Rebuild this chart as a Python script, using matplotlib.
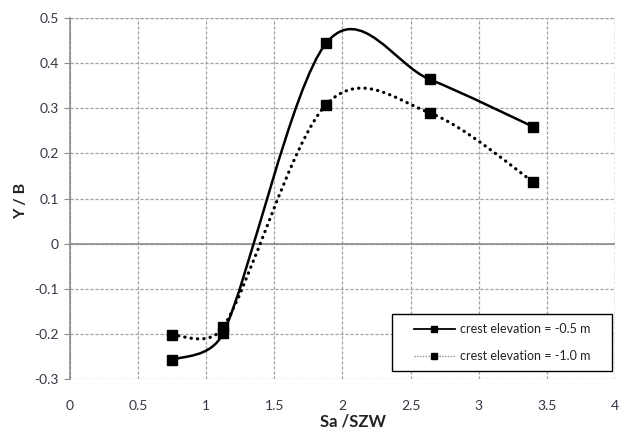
import matplotlib
matplotlib.use("Agg")
import matplotlib.pyplot as plt
import numpy as np
from matplotlib.lines import Line2D
from matplotlib.path import Path
from matplotlib.patches import PathPatch, Rectangle

# data
sa_szw = [0.75, 1.125, 1.88, 2.64, 3.40]
yb_05 = [-0.258, -0.198, 0.444, 0.364, 0.259]
yb_10 = [-0.203, -0.185, 0.308, 0.290, 0.137]
labels = ["crest elevation = -0.5 m", "crest elevation = -1.0 m"]

INK = "black"
GRID = "#a0a0a0"
AXIS = "#8c8c8c"
TICK = "#363645"

plt.rcParams["font.family"] = ["Lato", "DejaVu Sans"]


def smooth_path(ax, xs, ys, cap=0.5):
    """Excel-like smoothed line: Catmull-Rom Beziers built in pixel space,
    with each control arm capped at a fraction of its segment chord."""
    p = ax.transData.transform(np.column_stack([xs, ys]))
    n = len(p)

    def arm(vec, chord):
        length = np.hypot(*vec)
        limit = cap * chord
        return vec if length <= limit else vec * limit / length

    verts = [p[0]]
    codes = [Path.MOVETO]
    for i in range(n - 1):
        p0 = p[i - 1] if i > 0 else p[i]
        p3 = p[i + 2] if i + 2 < n else p[i + 1]
        chord = np.hypot(*(p[i + 1] - p[i]))
        c1 = p[i] + arm((p[i + 1] - p0) / 6.0, chord)
        c2 = p[i + 1] - arm((p3 - p[i]) / 6.0, chord)
        verts += [c1, c2, p[i + 1]]
        codes += [Path.CURVE4] * 3
    verts = ax.transData.inverted().transform(np.array(verts))
    return Path(verts, codes)


fig = plt.figure(figsize=(6.22, 4.34), dpi=100)
ax = fig.add_axes([0.1125, 0.1267, 0.8762, 0.8318])

ax.set_xlim(0, 4)
ax.set_ylim(-0.3, 0.5)
ax.set_xticks(np.arange(0, 4.01, 0.5))
ax.set_yticks(np.arange(-0.3, 0.501, 0.1))
ax.set_xticklabels(["0", "0.5", "1", "1.5", "2", "2.5", "3", "3.5", "4"])
ax.set_yticklabels(["-0.3", "-0.2", "-0.1", "0", "0.1", "0.2", "0.3", "0.4", "0.5"])

dash = (0, (2.5, 1.5))
ax.grid(True, color=GRID, linestyle=dash, linewidth=0.9)
for side in ("top", "right", "bottom"):
    ax.spines[side].set_visible(False)
ax.spines["left"].set_color(AXIS)
ax.spines["left"].set_linewidth(1.2)
ax.axhline(0, color=AXIS, linewidth=1.2, zorder=2)
ax.axhline(0.5, color=GRID, linestyle=dash, linewidth=0.9)
ax.axvline(4, color=GRID, linestyle=dash, linewidth=0.9)

ax.tick_params(axis="y", direction="out", length=4, color=AXIS,
               labelsize=10, labelcolor=TICK, pad=4)
ax.tick_params(axis="x", length=0, labelsize=10, labelcolor=TICK, pad=15)

# smoothed curves
ax.add_patch(PathPatch(smooth_path(ax, sa_szw, yb_05), facecolor="none",
                       edgecolor=INK, linewidth=1.8, zorder=3))
ax.add_patch(PathPatch(smooth_path(ax, sa_szw, yb_10), facecolor="none",
                       edgecolor=INK, linewidth=2.3, linestyle=(0, (0.1, 1.9)),
                       capstyle="round", zorder=3))
ax.plot(sa_szw, yb_05, linestyle="none", marker="s", markersize=6.5,
        color=INK, zorder=4)
ax.plot(sa_szw, yb_10, linestyle="none", marker="s", markersize=6.5,
        color=INK, zorder=4)

ax.set_xlabel("Sa /SZW", fontsize=12, fontweight="bold", color="#222222")
ax.xaxis.set_label_coords(0.52, -0.095)
ax.set_ylabel("Y / B", fontsize=11.5, fontweight="bold", color="#222222")
ax.yaxis.set_label_coords(-0.077, 0.493)

# legend: white box with black frame, entries centred inside
ax.add_patch(Rectangle((0.5908, 0.0222), 0.4037, 0.158, transform=ax.transAxes,
                       facecolor="white", edgecolor="black", linewidth=1.0,
                       zorder=5, clip_on=False))
handles = [
    Line2D([], [], color=INK, linewidth=1.3, marker="s", markersize=5),
    Line2D([], [], color="#909090", linewidth=1.0, linestyle=(0, (1, 1)),
           marker="s", markersize=5, markerfacecolor=INK, markeredgecolor=INK),
]
leg = ax.legend(handles, labels, loc="center", bbox_to_anchor=(0.7927, 0.101),
                fontsize=9, handlelength=3.3, labelspacing=1.2, borderpad=0.3,
                handletextpad=0.4, borderaxespad=0, frameon=False)
leg.set_zorder(6)
for t in leg.get_texts():
    t.set_color("#222222")

fig.savefig("out.png", dpi=100)
